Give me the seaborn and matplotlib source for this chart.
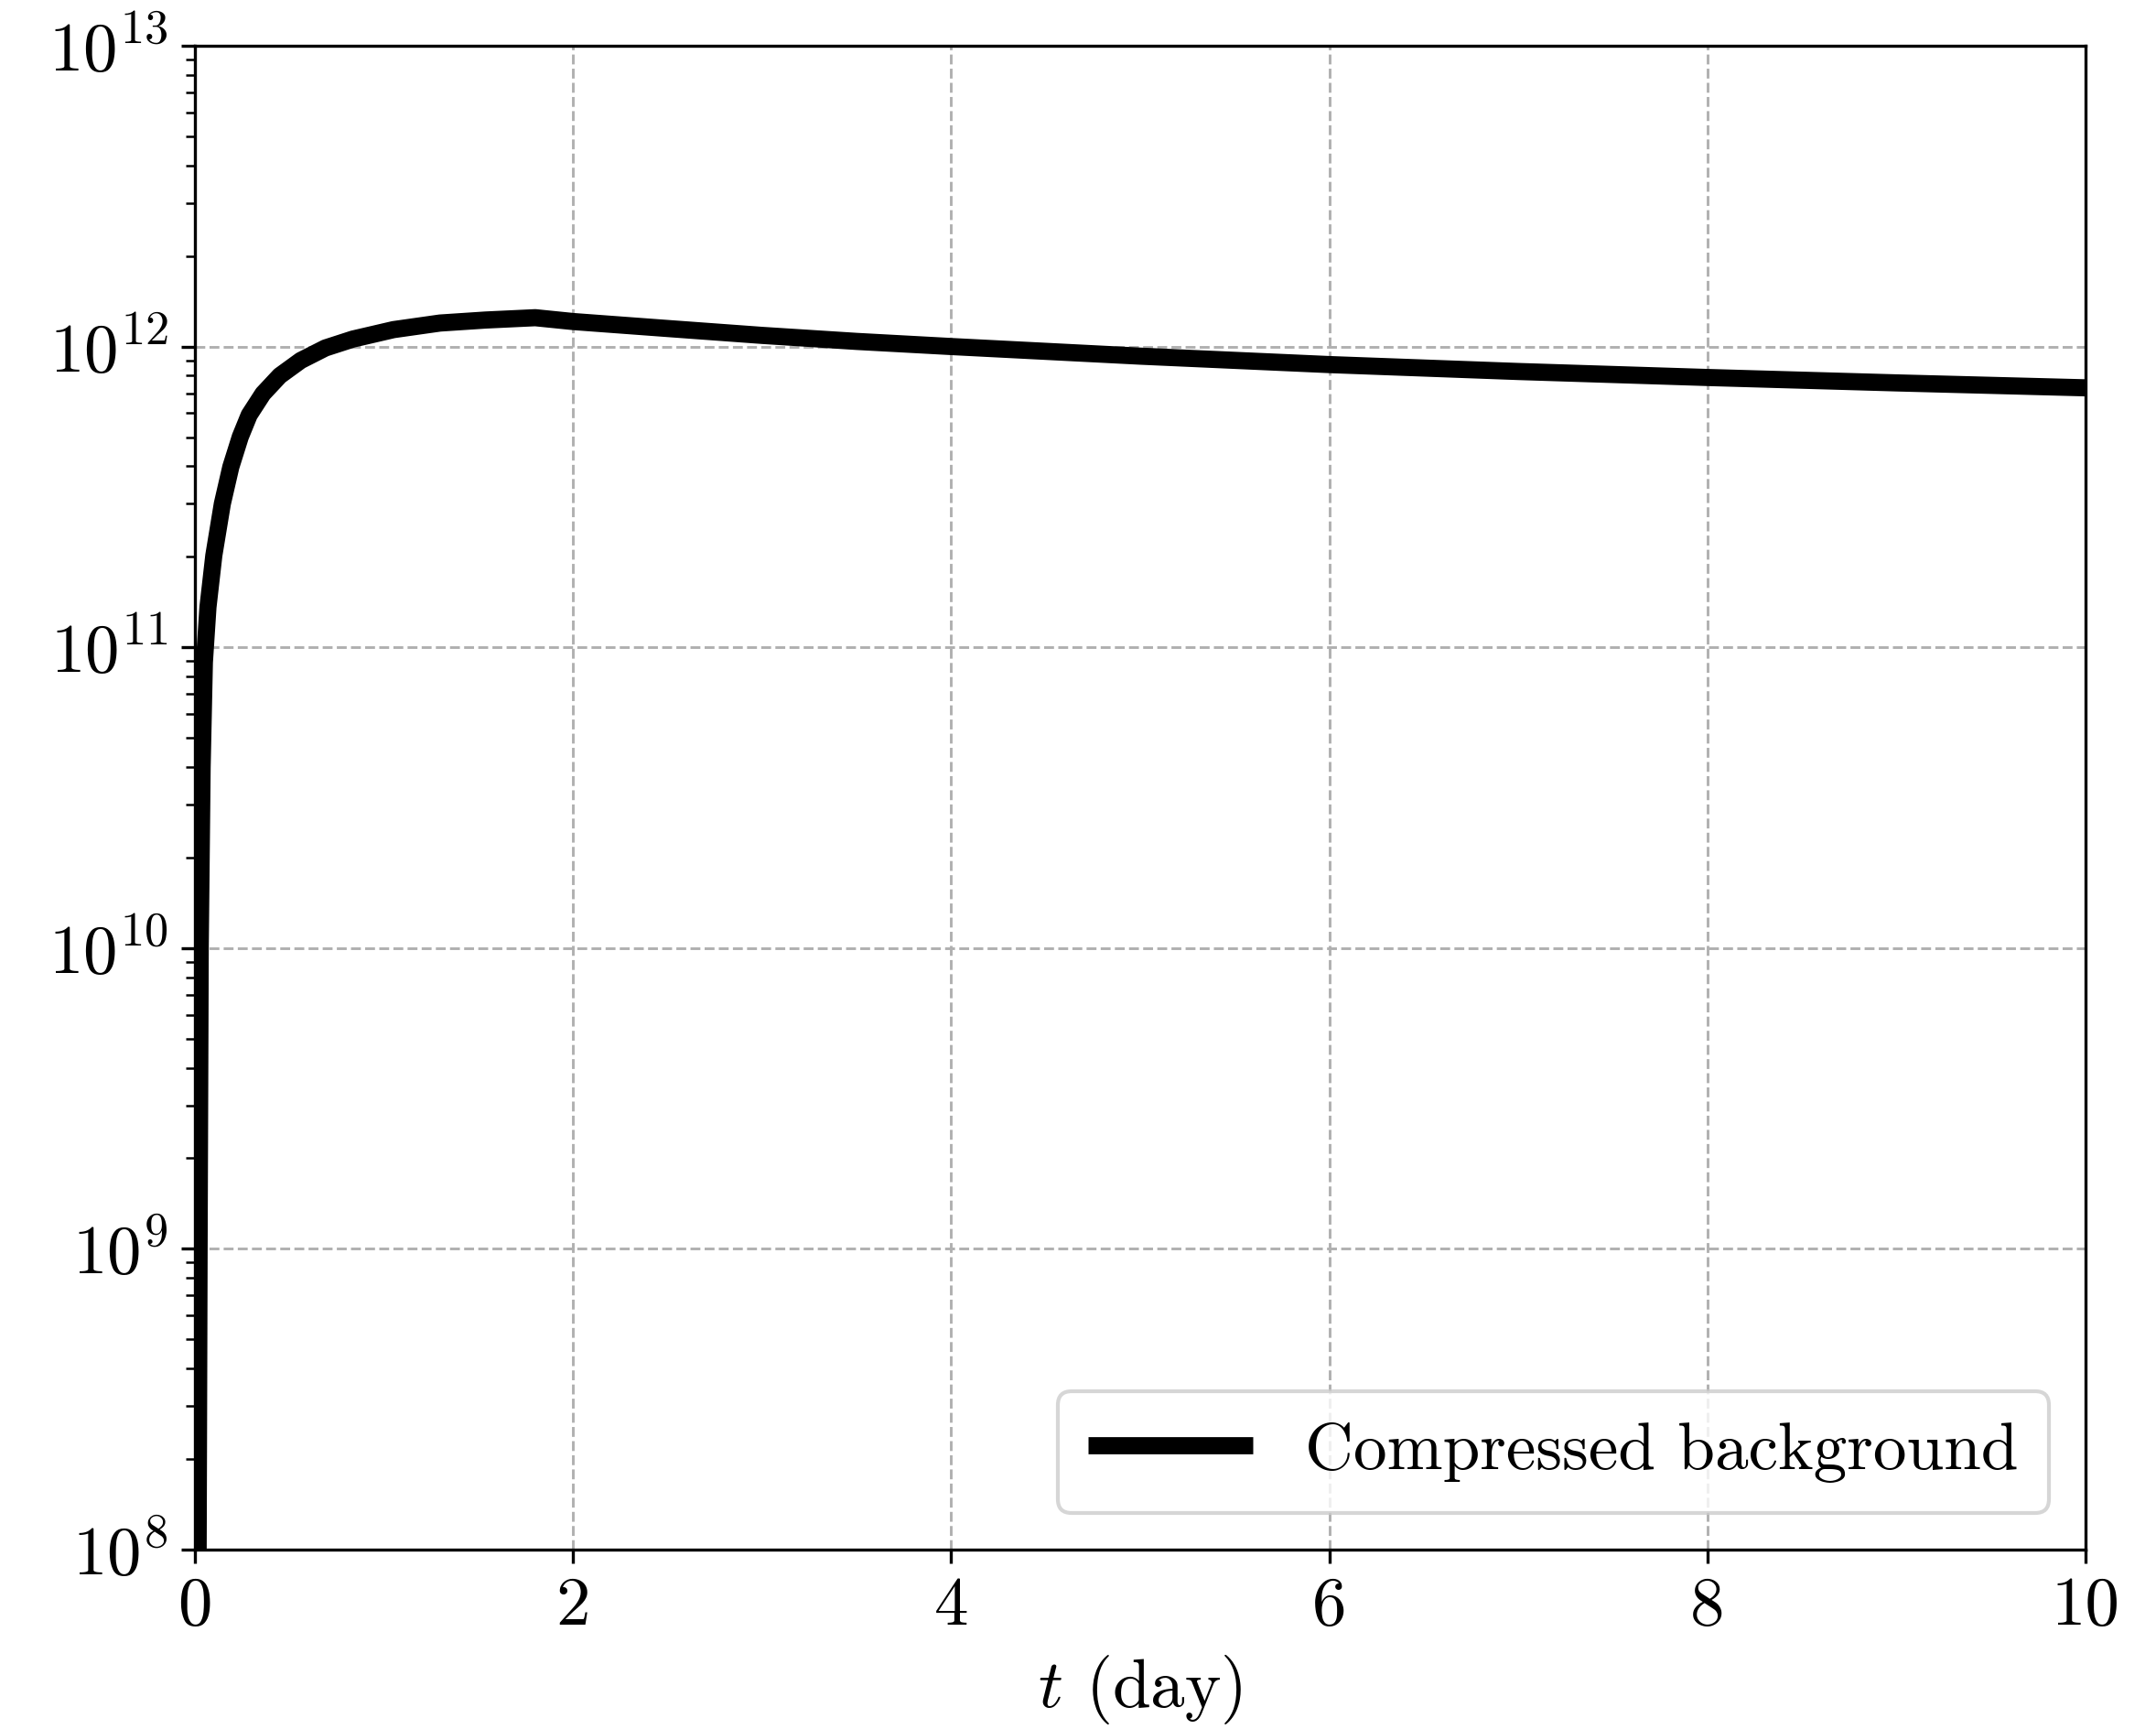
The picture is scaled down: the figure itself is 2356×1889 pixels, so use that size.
import numpy as np
import pandas as pd
import matplotlib
matplotlib.use("Agg")
import matplotlib.pyplot as plt
import seaborn as sns

# ---- data ----
t_day = [0.017, 0.022, 0.028, 0.038, 0.05, 0.069, 0.10, 0.145, 0.19, 0.24,
         0.287, 0.36, 0.449, 0.56, 0.69, 0.836, 1.05, 1.296, 1.538, 1.8,
         2.0, 2.5, 3.0, 3.5, 4.0, 5.0, 6.0, 7.0, 8.0, 9.0, 10.0]
n_background = [1.0e8, 1.0e9, 1.0e10, 3.98e10, 8.91e10, 1.36e11, 2.02e11, 3.0e11,
                3.98e11, 5.01e11, 5.92e11, 6.97e11, 8.0e11, 8.99e11, 9.89e11,
                1.059e12, 1.138e12, 1.197e12, 1.225e12, 1.247e12,
                1.211e12, 1.148e12, 1.089e12, 1.040e12, 1.0e12,
                9.29e11, 8.71e11, 8.26e11, 7.89e11, 7.57e11, 7.29e11]
series_label = "Compressed background"
x_ticks = [0, 2, 4, 6, 8, 10]

df = pd.DataFrame({"t": t_day, "N": n_background})

sns.set_theme(style="white")
plt.rcParams["font.family"] = ["cmr10", "DejaVu Serif"]
plt.rcParams["mathtext.fontset"] = "cm"
plt.rcParams["axes.formatter.use_mathtext"] = True
plt.rcParams["font.size"] = 18
for key in ["text.color", "axes.labelcolor", "xtick.color", "ytick.color", "axes.edgecolor"]:
    plt.rcParams[key] = "black"

fig = plt.figure(figsize=(2356 / 300, 1889 / 300), dpi=300)
ax = fig.add_axes([213 / 2356, 1 - 1693 / 1889, (2279 - 213) / 2356, (1693 - 50) / 1889])

sns.lineplot(data=df, x="t", y="N", ax=ax, color="black", linewidth=4.5,
             label=series_label, sort=False, solid_capstyle="butt",
             solid_joinstyle="round")

ax.set_yscale("log")
ax.set_xlim(0, 10)
ax.set_ylim(1e8, 1e13)
ax.set_xticks(x_ticks)
ax.set_xticklabels([str(v) for v in x_ticks])
ax.set_xlabel(r"$t$ (day)", fontsize=18, color="black")
ax.set_ylabel("")

for sp in ax.spines.values():
    sp.set_visible(True)
    sp.set_color("black")
    sp.set_linewidth(0.8)

ax.tick_params(axis="both", which="major", direction="out", length=3.5, width=0.8,
               labelsize=18, color="black", labelcolor="black",
               left=True, bottom=True, top=False, right=False)
ax.tick_params(axis="y", which="minor", direction="out", length=2.3, width=0.6,
               left=True, color="black")
ax.tick_params(axis="x", which="minor", bottom=False)

ax.grid(True, which="major", linestyle="--", color="#b0b0b0", linewidth=0.7)
ax.set_axisbelow(True)

leg = ax.legend(loc="lower right", fontsize=17.6, handlelength=2.45, frameon=True,
                fancybox=True, framealpha=0.8, borderpad=0.45, borderaxespad=0.55,
                handletextpad=0.78)
leg.get_frame().set_edgecolor("#cccccc")
for txt in leg.get_texts():
    txt.set_color("black")

fig.savefig("out.png", dpi=300)
